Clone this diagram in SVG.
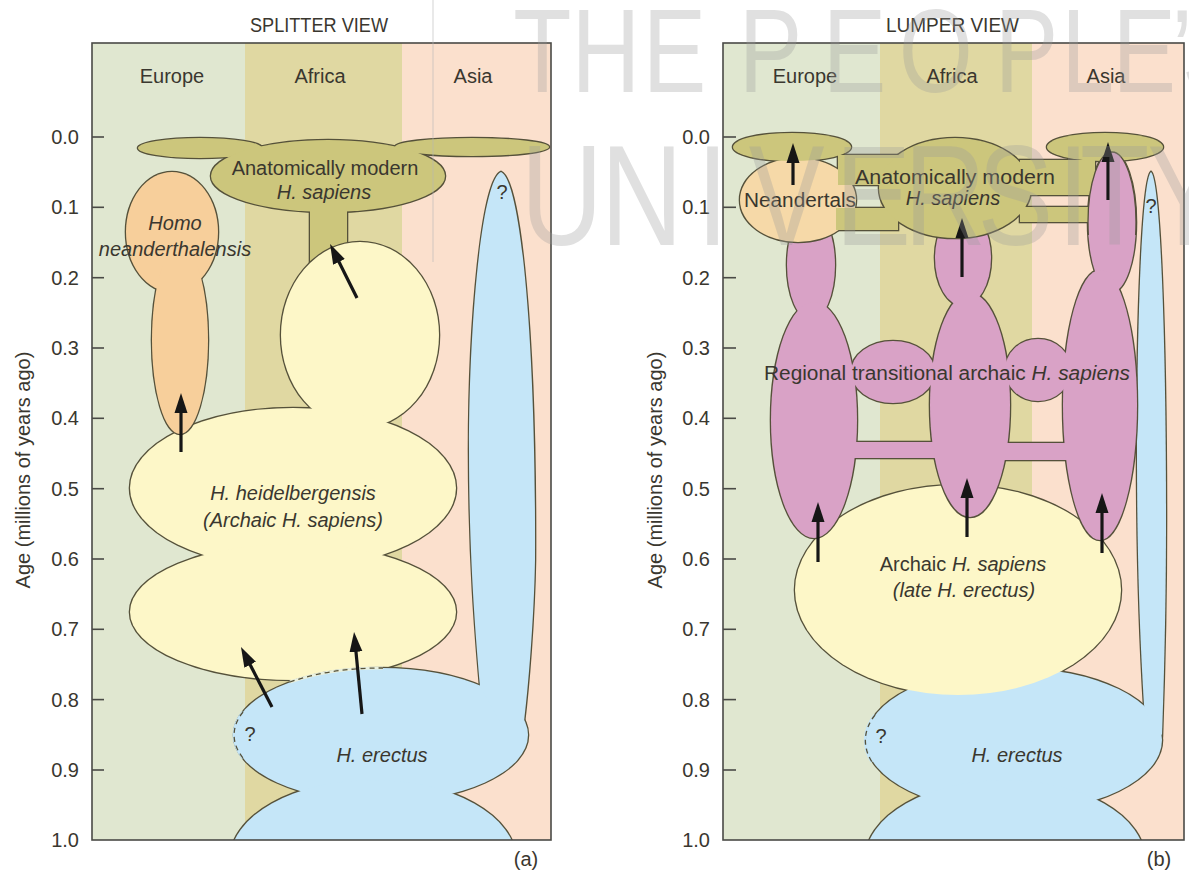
<svg xmlns="http://www.w3.org/2000/svg" width="1189" height="872" viewBox="0 0 1189 872">
<defs>
<style>
.t{font-family:"Liberation Sans",Arial,Helvetica,sans-serif;fill:#3a372f;font-size:20px}
.i{font-style:italic}
.c{text-anchor:middle}
.r{text-anchor:end}
.frame{fill:none;stroke:#4a4a46;stroke-width:1.6}
.tick{stroke:#4a4a46;stroke-width:1.6}
.arr{stroke:#161616;stroke-width:3.2;fill:none;marker-end:url(#ah)}
.wm{font-family:"Liberation Sans",Arial,sans-serif;fill:#9a9a9a;opacity:.3}
.dash{fill:none;stroke:#55513a;stroke-width:1.3;stroke-dasharray:5 4}
</style>
<marker id="ah" markerUnits="userSpaceOnUse" viewBox="0 0 20 14" markerWidth="20" markerHeight="14" refX="6" refY="7" orient="auto"><path d="M0,0.5 L20,7 L0,13.5 Z" fill="#161616"/></marker>
<clipPath id="cpL"><rect x="92" y="43" width="459" height="797"/></clipPath>
<clipPath id="cpR"><rect x="723" y="43" width="461" height="797"/></clipPath>
<clipPath id="cpAs"><rect x="1070" y="130" width="80" height="105"/></clipPath>
<g id="sOlL"><ellipse cx="200" cy="148" rx="62" ry="10"/><ellipse cx="472" cy="147" rx="77" ry="9"/><ellipse cx="328" cy="176" rx="117" ry="36"/><rect x="310" y="200" width="37" height="75" rx="10"/></g>
<g id="sNeL"><ellipse cx="172" cy="232" rx="46" ry="60"/><ellipse cx="180" cy="340" rx="28" ry="94"/></g>
<g id="sYeL"><ellipse cx="360" cy="335" rx="79" ry="93"/><ellipse cx="293" cy="488" rx="163" ry="80"/><ellipse cx="293" cy="612" rx="163" ry="68"/></g>
<g id="sBlL"><ellipse cx="381" cy="735" rx="147" ry="67"/><ellipse cx="373" cy="860" rx="143" ry="80"/><path d="M501,172 C482,180 469,320 469,450 C469,560 476,640 480,686 L500,722 L524,722 C528,690 534,620 535,560 C536,330 520,180 501,172 Z"/></g>
<g id="sBlR"><ellipse cx="1014" cy="740" rx="148" ry="72"/><ellipse cx="1005" cy="860" rx="140" ry="80"/><path d="M1151,172 C1142,180 1137,320 1137,450 C1137,560 1140,640 1144,705 L1150,725 L1162,735 C1164,680 1166,600 1166,520 C1166,330 1160,180 1151,172 Z"/></g>
<ellipse id="sYeR" cx="958" cy="590" rx="163" ry="105"/>
<g id="sPiR">
<ellipse cx="811" cy="265" rx="24" ry="55"/><ellipse cx="814" cy="420" rx="43" ry="118"/>
<ellipse cx="893" cy="372" rx="42" ry="31"/><rect x="850" y="442" width="90" height="16"/>
<ellipse cx="963" cy="258" rx="28" ry="48"/><ellipse cx="970" cy="405" rx="40" ry="112"/>
<ellipse cx="1038" cy="370" rx="33" ry="31"/><rect x="1000" y="443" width="70" height="17"/>
<ellipse cx="1112" cy="222" rx="24" ry="70"/><ellipse cx="1100" cy="405" rx="37" ry="135"/>
</g>
<g id="sOlR">
<ellipse cx="792" cy="147" rx="59" ry="14"/>
<rect x="838" y="155" width="60" height="30"/>
<rect x="836" y="208" width="62" height="22"/>
<ellipse cx="955" cy="188" rx="76" ry="50"/>
<rect x="1020" y="160" width="75" height="35"/>
<rect x="1020" y="207" width="75" height="15"/>
<ellipse cx="1105" cy="147" rx="58" ry="14"/>
</g>
<ellipse id="sNeR" cx="798" cy="200" rx="58" ry="42"/>
<ellipse id="sAsTop" cx="1112" cy="222" rx="24" ry="70"/>
</defs>

<rect width="1189" height="872" fill="#ffffff"/>

<!-- LEFT PANEL : SPLITTER VIEW -->
<g id="splitter-view">
<g id="left-columns">
<rect x="92" y="43" width="153" height="797" fill="#e0e7d0"/>
<rect x="245" y="43" width="157" height="797" fill="#e0d8a2"/>
<rect x="402" y="43" width="149" height="797" fill="#fbe0cd"/>
</g>
<g clip-path="url(#cpL)">
<g id="modern-sapiens-L">
<use href="#sOlL" fill="#ccc67c" stroke="#55513a" stroke-width="2.6"/>
<use href="#sOlL" fill="#ccc67c" stroke="none"/>
</g>
<g id="heidelbergensis-L">
<use href="#sYeL" fill="#fdf7c8" stroke="#55513a" stroke-width="2.6"/>
<use href="#sYeL" fill="#fdf7c8" stroke="none"/>
</g>
<g id="neanderthalensis-L">
<use href="#sNeL" fill="#f7cf9b" stroke="#55513a" stroke-width="2.6"/>
<use href="#sNeL" fill="#f7cf9b" stroke="none"/>
</g>
<g id="erectus-L">
<use href="#sBlL" fill="#c5e6f8" stroke="#55513a" stroke-width="2.6"/>
<use href="#sBlL" fill="#c5e6f8" stroke="none"/>
<path d="M290,682 A147,67 0 0,1 383,668" fill="none" stroke="#e9f0df" stroke-width="3"/>
<path d="M290,682 A147,67 0 0,1 383,668" class="dash"/>
<path d="M243,712 A147,67 0 0,0 243,758" fill="none" stroke="#c5e6f8" stroke-width="3"/>
<path d="M243,712 A147,67 0 0,0 243,758" class="dash"/>
</g>
</g>
<g id="left-connectors">
<path class="arr" d="M181,452 L181,407"/>
<path class="arr" d="M357,298 L336.3,256.5"/>
<path class="arr" d="M272,707 L247.4,659.4"/>
<path class="arr" d="M362,714 L355.4,645.9"/>
</g>
<rect class="frame" x="92" y="43" width="459" height="797"/>
<g id="left-axis">
<line class="tick" x1="92" y1="137" x2="104" y2="137"/>
<line class="tick" x1="92" y1="207.3" x2="104" y2="207.3"/>
<line class="tick" x1="92" y1="277.7" x2="104" y2="277.7"/>
<line class="tick" x1="92" y1="348" x2="104" y2="348"/>
<line class="tick" x1="92" y1="418.3" x2="104" y2="418.3"/>
<line class="tick" x1="92" y1="488.7" x2="104" y2="488.7"/>
<line class="tick" x1="92" y1="559" x2="104" y2="559"/>
<line class="tick" x1="92" y1="629.3" x2="104" y2="629.3"/>
<line class="tick" x1="92" y1="699.6" x2="104" y2="699.6"/>
<line class="tick" x1="92" y1="770" x2="104" y2="770"/>
<text class="t r" x="79" y="144">0.0</text>
<text class="t r" x="79" y="214">0.1</text>
<text class="t r" x="79" y="285">0.2</text>
<text class="t r" x="79" y="355">0.3</text>
<text class="t r" x="79" y="425">0.4</text>
<text class="t r" x="79" y="496">0.5</text>
<text class="t r" x="79" y="566">0.6</text>
<text class="t r" x="79" y="636">0.7</text>
<text class="t r" x="79" y="707">0.8</text>
<text class="t r" x="79" y="777">0.9</text>
<text class="t r" x="79" y="847">1.0</text>
<text class="t c" font-size="21" transform="translate(30,470) rotate(-90)">Age (millions of years ago)</text>
</g>
<g id="left-labels">
<text class="t" x="250" y="32" font-size="19" textLength="138" lengthAdjust="spacingAndGlyphs">SPLITTER VIEW</text>
<text class="t c" x="172" y="83">Europe</text>
<text class="t c" x="320" y="83">Africa</text>
<text class="t c" x="473" y="83">Asia</text>
<text class="t c" x="325" y="175">Anatomically modern</text>
<text class="t c i" x="324" y="199">H. sapiens</text>
<text class="t c i" x="175" y="230">Homo</text>
<text class="t c i" x="175" y="256">neanderthalensis</text>
<text class="t c i" x="293" y="500">H. heidelbergensis</text>
<text class="t c i" x="293" y="527">(Archaic H. sapiens)</text>
<text class="t c i" x="382" y="762">H. erectus</text>
<text class="t c" x="502" y="199" font-size="13">?</text>
<text class="t c" x="250" y="741" font-size="13">?</text>
<text class="t c" x="526" y="866" font-size="19">(a)</text>
</g>
</g>

<!-- RIGHT PANEL : LUMPER VIEW -->
<g id="lumper-view">
<g id="right-columns">
<rect x="723" y="43" width="157" height="797" fill="#e0e7d0"/>
<rect x="880" y="43" width="152" height="797" fill="#e0d8a2"/>
<rect x="1032" y="43" width="152" height="797" fill="#fbe0cd"/>
</g>
<g clip-path="url(#cpR)">
<use href="#sYeR" fill="none" stroke="#55513a" stroke-width="2.6"/>
<g id="erectus-R">
<use href="#sBlR" fill="#c5e6f8" stroke="#55513a" stroke-width="2.6"/>
<use href="#sBlR" fill="#c5e6f8" stroke="none"/>
<path d="M875,715 A148,72 0 0,0 872,762" fill="none" stroke="#c5e6f8" stroke-width="3"/>
<path d="M875,715 A148,72 0 0,0 872,762" class="dash"/>
</g>
<g id="archaic-sapiens-R">
<use href="#sYeR" fill="#fdf7c8" stroke="none"/>
</g>
<g id="regional-transitional-R">
<use href="#sPiR" fill="#d9a2c6" stroke="#55513a" stroke-width="2.6"/>
<use href="#sPiR" fill="#d9a2c6" stroke="none"/>
</g>
<g id="modern-sapiens-R">
<use href="#sOlR" fill="#ccc67c" stroke="#55513a" stroke-width="2.6"/>
<use href="#sNeR" fill="#f6d9a8" stroke="#55513a" stroke-width="2.6"/>
<use href="#sNeR" fill="#f6d9a8" stroke="none"/>
<use href="#sOlR" fill="#ccc67c" stroke="none"/>
</g>
<g id="asia-regional-top" clip-path="url(#cpAs)">
<use href="#sAsTop" fill="#d9a2c6" stroke="#55513a" stroke-width="1.3"/>
</g>
</g>
<g id="right-connectors">
<path class="arr" d="M793,185 L793,157"/>
<path class="arr" d="M962,277 L962,232"/>
<path class="arr" d="M1108,200 L1108,156"/>
<path class="arr" d="M818,562 L818,516"/>
<path class="arr" d="M967,537 L967,492"/>
<path class="arr" d="M1102,553 L1102,507"/>
</g>
<rect class="frame" x="723" y="43" width="461" height="797"/>
<g id="right-axis">
<line class="tick" x1="723" y1="137" x2="736" y2="137"/>
<line class="tick" x1="723" y1="207.3" x2="736" y2="207.3"/>
<line class="tick" x1="723" y1="277.7" x2="736" y2="277.7"/>
<line class="tick" x1="723" y1="348" x2="736" y2="348"/>
<line class="tick" x1="723" y1="418.3" x2="736" y2="418.3"/>
<line class="tick" x1="723" y1="488.7" x2="736" y2="488.7"/>
<line class="tick" x1="723" y1="559" x2="736" y2="559"/>
<line class="tick" x1="723" y1="629.3" x2="736" y2="629.3"/>
<line class="tick" x1="723" y1="699.6" x2="736" y2="699.6"/>
<line class="tick" x1="723" y1="770" x2="736" y2="770"/>
<text class="t r" x="710" y="144">0.0</text>
<text class="t r" x="710" y="214">0.1</text>
<text class="t r" x="710" y="285">0.2</text>
<text class="t r" x="710" y="355">0.3</text>
<text class="t r" x="710" y="425">0.4</text>
<text class="t r" x="710" y="496">0.5</text>
<text class="t r" x="710" y="566">0.6</text>
<text class="t r" x="710" y="636">0.7</text>
<text class="t r" x="710" y="707">0.8</text>
<text class="t r" x="710" y="777">0.9</text>
<text class="t r" x="710" y="847">1.0</text>
<text class="t c" font-size="21" transform="translate(662,470) rotate(-90)">Age (millions of years ago)</text>
</g>
<g id="right-labels">
<text class="t" x="886" y="32" font-size="19" textLength="133" lengthAdjust="spacingAndGlyphs">LUMPER VIEW</text>
<text class="t c" x="805" y="83">Europe</text>
<text class="t c" x="952" y="83">Africa</text>
<text class="t c" x="1106" y="83">Asia</text>
<text class="t" x="744" y="207" textLength="112" lengthAdjust="spacingAndGlyphs">Neandertals</text>
<text class="t" x="855" y="184" textLength="200" lengthAdjust="spacingAndGlyphs">Anatomically modern</text>
<text class="t c i" x="953" y="205">H. sapiens</text>
<text class="t" x="764" y="380" textLength="366" lengthAdjust="spacingAndGlyphs">Regional transitional archaic <tspan class="i">H. sapiens</tspan></text>
<text class="t c" x="963" y="571">Archaic <tspan class="i">H. sapiens</tspan></text>
<text class="t c i" x="964" y="597">(late H. erectus)</text>
<text class="t c i" x="1017" y="762">H. erectus</text>
<text class="t c" x="1151" y="213" font-size="13">?</text>
<text class="t c" x="881" y="743" font-size="13">?</text>
<text class="t c" x="1159" y="866" font-size="19">(b)</text>
</g>
</g>

<!-- watermark -->
<g id="watermark">
<line x1="433" y1="0" x2="433" y2="262" stroke="#b8b8b8" stroke-width="1.2" opacity="0.5"/>
<text class="wm" font-size="119" transform="translate(514,92) scale(0.8,1)" x="-1 72 161 220 281 386 481 601 684 748 822 835">THE PEOPLE’S</text>
<text class="wm" font-size="142" transform="translate(520,245) scale(0.8,1)" x="1 101 221 286 394 480 572 672 700 784">UNIVERSITY</text>
</g>
</svg>
